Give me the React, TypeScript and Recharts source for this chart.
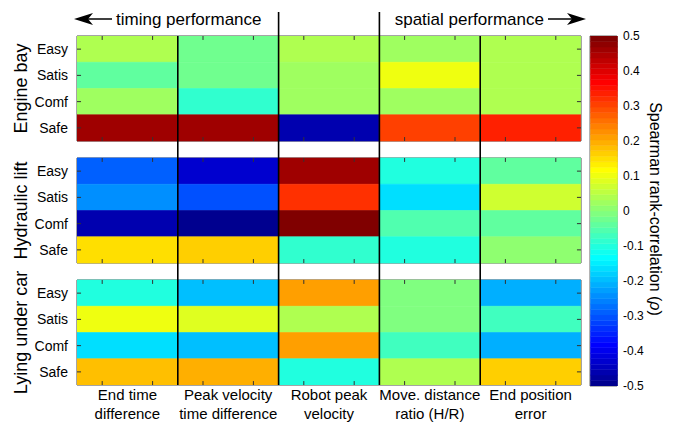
import { ComposedChart, Bar, Cell, XAxis, YAxis, ReferenceLine, ReferenceArea } from 'recharts';

const columns = [
  'End time difference',
  'Peak velocity time difference',
  'Robot peak velocity',
  'Move. distance ratio (H/R)',
  'End position error',
];
const columnLines = [
  ['End time', 'difference'],
  ['Peak velocity', 'time difference'],
  ['Robot peak', 'velocity'],
  ['Move. distance', 'ratio (H/R)'],
  ['End position', 'error'],
];
const rows = ['Easy', 'Satis', 'Comf', 'Safe'];
const panels = ['Engine bay', 'Hydraulic lift', 'Lying under car'];

// Spearman rho, one row per questionnaire item, columns as above
const engineBay = [
  [0.038, -0.025, 0.042, 0.016, 0.032],
  [-0.042, -0.025, 0.025, 0.108, 0.038],
  [0.025, -0.092, 0.016, 0.025, 0.038],
  [0.458, 0.458, -0.458, 0.308, 0.342],
];
const hydraulicLift = [
  [-0.29, -0.425, 0.458, -0.108, -0.042],
  [-0.24, -0.308, 0.325, -0.158, 0.075],
  [-0.458, -0.49, 0.495, -0.058, -0.042],
  [0.142, 0.158, -0.092, -0.108, 0.008],
];
const lyingUnderCar = [
  [-0.108, -0.19, 0.208, -0.008, -0.208],
  [0.095, 0.092, 0.032, -0.008, -0.075],
  [-0.158, -0.19, 0.208, -0.075, -0.208],
  [0.175, 0.2, -0.108, 0.032, 0.158],
];
const colorbarTicks = [-0.5, -0.4, -0.3, -0.2, -0.1, 0, 0.1, 0.2, 0.3, 0.4, 0.5];

const panelData = [engineBay, hydraulicLift, lyingUnderCar];

// layout: plot box 77..581 x 36..385, rows in row units
const PLOT_W = 504;
const ROW_PX = 26.25;
const GAP = 17 / ROW_PX;
const PANEL = rows.length + GAP;
const TOTAL = panels.length * rows.length + (panels.length - 1) * GAP;
const TOP_EXT = -24 / ROW_PX;
const LEVELS = 64;
// just under the band width, otherwise recharts shrinks bars to 90%
const CELL_W = PLOT_W / columns.length - 0.3;

// MATLAB style jet(64)
const jet = (idx: number) => {
  const t = (idx + 1) / LEVELS;
  const c = (x: number) => Math.round(255 * Math.max(0, Math.min(1, x)));
  return `rgb(${c(1.5 - Math.abs(4 * t - 3))},${c(1.5 - Math.abs(4 * t - 2))},${c(1.5 - Math.abs(4 * t - 1))})`;
};
const rhoColor = (v: number) => jet(Math.min(LEVELS - 1, Math.max(0, Math.floor((v + 0.5) * LEVELS))));

const rowCenters = panels.flatMap((_, p) => rows.map((_, r) => p * PANEL + r + 0.5));
const rowLabel = (v: number) => {
  const i = rowCenters.findIndex((c) => Math.abs(c - v) < 1e-6);
  return i < 0 ? '' : rows[i % rows.length];
};
const colCenters = columns.map((_, i) => i + 0.5);

const table = columns.map((name, i) => {
  const o: Record<string, any> = { name, x: i + 0.5 };
  panelData.forEach((m, p) => {
    m.forEach((_, r) => (o[`p${p}r${r}`] = 1));
    o[`gap${p}`] = GAP;
  });
  return o;
});

const levels = Array.from({ length: LEVELS }, (_, k) => ({
  x: 0.5,
  k,
  range: [-0.5 + k / LEVELS, -0.5 + (k + 1) / LEVELS],
}));

const ColumnTick = (props: any) => {
  const { x, y, payload } = props;
  const lines = columnLines[Math.floor(payload.value)] || ['', ''];
  return (
    <text x={x} y={y} textAnchor="middle" fontSize={15} fill="#000">
      <tspan x={x} dy={7}>{lines[0]}</tspan>
      <tspan x={x} dy={19}>{lines[1]}</tspan>
    </text>
  );
};

const App = () => {
  const bars: any[] = [];
  panelData.forEach((m, p) => {
    m.forEach((vals, r) => {
      bars.push(
        <Bar key={`p${p}r${r}`} dataKey={`p${p}r${r}`} stackId="heat" barSize={CELL_W} isAnimationActive={false}>
          {vals.map((v, i) => (
            <Cell key={i} fill={rhoColor(v)} stroke={rhoColor(v)} strokeWidth={0.6} />
          ))}
        </Bar>
      );
    });
    if (p < panelData.length - 1) {
      bars.push(
        <Bar key={`gap${p}`} dataKey={`gap${p}`} stackId="heat" barSize={CELL_W} fill="none" isAnimationActive={false} />
      );
    }
  });

  const xq = columns.flatMap((_, i) => [i + 0.25, i + 0.75]);
  const ticks: any[] = [];
  panels.forEach((_, p) => {
    const top = p * PANEL;
    const bot = top + rows.length;
    xq.forEach((x, k) => {
      ticks.push(<ReferenceLine key={`t${p}-${k}`} segment={[{ x, y: top }, { x, y: top + 0.15 }]} stroke="#333" ifOverflow="visible" />);
      ticks.push(<ReferenceLine key={`b${p}-${k}`} segment={[{ x, y: bot - 0.15 }, { x, y: bot }]} stroke="#333" ifOverflow="visible" />);
    });
    rows.forEach((_, r) => {
      const y = top + r + 0.5;
      ticks.push(<ReferenceLine key={`l${p}-${r}`} segment={[{ x: 0, y }, { x: 0.04, y }]} stroke="#333" ifOverflow="visible" />);
      ticks.push(<ReferenceLine key={`r${p}-${r}`} segment={[{ x: 4.96, y }, { x: 5, y }]} stroke="#333" ifOverflow="visible" />);
    });
  });

  return (
    <div style={{ position: 'absolute', left: 0, top: 0, width: 678, height: 423, fontFamily: '"Liberation Sans", Arial, sans-serif', background: '#fff' }}>
      <div style={{ position: 'absolute', left: 0, top: 0 }}>
        <ComposedChart width={678} height={423} data={table} barCategoryGap={0} barGap={0} margin={{ top: 36, right: 97, bottom: 0, left: 27 }}>
          <XAxis
            dataKey="x"
            type="number"
            domain={[0, 5]}
            allowDataOverflow
            ticks={colCenters}
            interval={0}
            tickLine={false}
            axisLine={false}
            height={38}
            tick={<ColumnTick />}
          />
          <YAxis
            type="number"
            domain={[0, TOTAL]}
            reversed
            allowDataOverflow
            ticks={rowCenters}
            interval={0}
            tickFormatter={rowLabel}
            tickLine={false}
            axisLine={false}
            width={50}
            tickSize={7}
            tickMargin={2}
            tick={{ fill: '#000', fontSize: 14 }}
          />
          {bars}
          {panels.map((_, p) => (
            <ReferenceArea key={`box${p}`} x1={0} x2={5} y1={p * PANEL} y2={p * PANEL + rows.length} fill="none" fillOpacity={0} stroke="#4a4a4a" strokeWidth={1} ifOverflow="visible" />
          ))}
          {ticks}
          {[1, 2, 3, 4].map((x) => (
            <ReferenceLine
              key={`sep${x}`}
              segment={[{ x, y: x === 2 || x === 3 ? TOP_EXT : 0 }, { x, y: TOTAL }]}
              stroke="#000"
              strokeWidth={1.6}
              ifOverflow="visible"
            />
          ))}
        </ComposedChart>
      </div>

      <div style={{ position: 'absolute', left: 0, top: 0 }}>
        <ComposedChart width={678} height={423} data={levels} barCategoryGap={0} margin={{ top: 36, right: 21, bottom: 37, left: 590 }}>
          <XAxis type="number" dataKey="x" domain={[0, 1]} hide />
          <YAxis
            type="number"
            orientation="right"
            domain={[-0.5, 0.5]}
            allowDataOverflow
            ticks={colorbarTicks}
            interval={0}
            tickFormatter={(v: number) => String(Math.round(v * 10) / 10)}
            tickLine={false}
            axisLine={false}
            width={40}
            tickSize={4}
            tickMargin={2}
            tick={{ fill: '#000', fontSize: 12 }}
          />
          <Bar dataKey="range" barSize={27} isAnimationActive={false}>
            {levels.map((l) => (
              <Cell key={l.k} fill={jet(l.k)} stroke={jet(l.k)} strokeWidth={0.5} />
            ))}
          </Bar>
          <ReferenceArea x1={0} x2={1} y1={-0.5} y2={0.5} fill="none" fillOpacity={0} stroke="#666" strokeWidth={1} />
        </ComposedChart>
      </div>

      <svg width={678} height={423} style={{ position: 'absolute', left: 0, top: 0, pointerEvents: 'none' }}>
        <line x1={88} y1={19} x2={112} y2={19} stroke="#000" strokeWidth={1.5} />
        <polygon points="74,19 93,13 88,19 93,25" fill="#000" />
        <text x={116} y={25} fontSize={17} fill="#000">timing performance</text>
        <text x={544} y={25} fontSize={17} fill="#000" textAnchor="end">spatial performance</text>
        <line x1={548} y1={19} x2={572} y2={19} stroke="#000" strokeWidth={1.5} />
        <polygon points="586,19 567,13 572,19 567,25" fill="#000" />
        {panels.map((name, p) => {
          const cy = 36 + (p * PANEL + rows.length / 2) * ROW_PX;
          return (
            <text key={name} x={27} y={cy} fontSize={18} fill="#000" textAnchor="middle" transform={`rotate(-90 27 ${cy})`}>
              {name}
            </text>
          );
        })}
        <text x={650} y={209} fontSize={16} fill="#000" textAnchor="middle" transform="rotate(90 650 209)">
          Spearman rank-correlation (<tspan fontStyle="italic">ρ</tspan>)
        </text>
      </svg>
    </div>
  );
};

export default App;
